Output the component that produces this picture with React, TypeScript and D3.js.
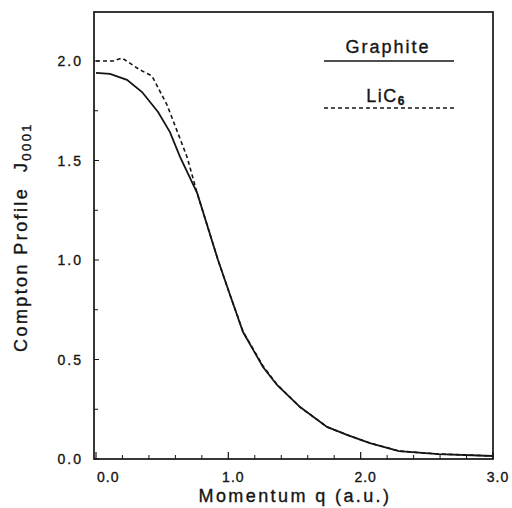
import React from 'react';
import * as d3 from 'd3';

// values
const qGraphite = [0, 0.106, 0.234, 0.348, 0.469, 0.559, 0.635, 0.764, 0.922, 1.013, 1.111, 1.262, 1.368, 1.542, 1.746, 1.897, 2.07, 2.29, 2.59, 3.0];
const jGraphite = [1.94, 1.935, 1.905, 1.844, 1.744, 1.643, 1.518, 1.337, 1.0, 0.824, 0.638, 0.462, 0.372, 0.261, 0.161, 0.121, 0.08, 0.04, 0.025, 0.015];

const qLiC6 = [0, 0.128, 0.197, 0.333, 0.423, 0.537, 0.688, 0.764, 0.922, 1.013, 1.111, 1.262, 1.368, 1.542, 1.746, 1.897, 2.07, 2.29, 2.59, 3.0];
const jLiC6 = [2.0, 2.0, 2.015, 1.955, 1.925, 1.779, 1.518, 1.337, 1.0, 0.824, 0.64, 0.468, 0.374, 0.261, 0.161, 0.121, 0.08, 0.04, 0.025, 0.015];

const xTicks = [0, 1, 2, 3];
const xTickLabels = ['0.0', '1.0', '2.0', '3.0'];
const yTicks = [0, 0.5, 1, 1.5, 2];
const yTickLabels = ['0.0', '0.5', '1.0', '1.5', '2.0'];

const FONT = '"Liberation Sans", Arial, Helvetica, sans-serif';
const INK = '#151515';
// scanned print looks a bit heavier than plain Liberation
const textInk = { fill: INK, stroke: INK, strokeWidth: 0.35 };

type Pt = { q: number; j: number };

export default function App() {
  const left = 94;
  const right = 493;
  const top = 12;
  const bottom = 459;

  const x = d3.scaleLinear().domain([0, 3]).range([96, 493]);
  const y = d3.scaleLinear().domain([0, 2]).range([459, 61]);

  const line = d3.line<Pt>()
    .x(d => x(d.q))
    .y(d => y(d.j))
    .curve(d3.curveLinear);

  const graphite: Pt[] = qGraphite.map((q, i) => ({ q, j: jGraphite[i] }));
  const lic6: Pt[] = qLiC6.map((q, i) => ({ q, j: jLiC6[i] }));

  const xMinor = d3.range(0, 3.001, 0.2).filter(v => Math.abs(v - Math.round(v)) > 1e-6);
  const yMinor = d3.range(0.25, 2.01, 0.5);

  return (
    <svg width={512} height={508} style={{ position: 'absolute', left: 0, top: 0, background: '#fff' }}>
      {/* frame */}
      <rect x={left} y={top} width={right - left} height={bottom - top}
        fill="none" stroke={INK} strokeWidth={1.7} />

      {/* x ticks, pointing inward */}
      {xTicks.map(t => (
        <line key={'xt' + t} x1={x(t)} x2={x(t)} y1={bottom} y2={bottom - 7} stroke={INK} strokeWidth={1.2} />
      ))}
      {xMinor.map(t => (
        <line key={'xm' + t} x1={x(t)} x2={x(t)} y1={bottom} y2={bottom - 4} stroke={INK} strokeWidth={1} />
      ))}
      {xTicks.map((t, i) => (
        <text key={'xl' + t} x={i === 0 ? x(t) + 1 : x(t) + 5} y={482}
          textAnchor={i === 0 ? 'start' : 'middle'} fontFamily={FONT} fontSize={14} letterSpacing={1} {...textInk}>
          {xTickLabels[i]}
        </text>
      ))}

      {/* y ticks */}
      {yTicks.map(t => (
        <line key={'yt' + t} x1={left} x2={left + 5} y1={y(t)} y2={y(t)} stroke={INK} strokeWidth={1} />
      ))}
      {yMinor.map(t => (
        <line key={'ym' + t} x1={left} x2={left + 4} y1={y(t)} y2={y(t)} stroke={INK} strokeWidth={1} />
      ))}
      {yTicks.map((t, i) => (
        <text key={'yl' + t} x={83} y={y(t)} dy="0.36em" textAnchor="end"
          fontFamily={FONT} fontSize={14} letterSpacing={2} {...textInk}>
          {yTickLabels[i]}
        </text>
      ))}

      {/* curves */}
      <path d={line(lic6) || ''} fill="none" stroke={INK} strokeWidth={1.6} strokeDasharray="4,3" />
      <path d={line(graphite) || ''} fill="none" stroke={INK} strokeWidth={1.8} />

      {/* legend */}
      <text x={388} y={53} textAnchor="middle" fontFamily={FONT} fontSize={18} letterSpacing={2} {...textInk}>Graphite</text>
      <line x1={324} x2={454} y1={61} y2={61} stroke={INK} strokeWidth={1.7} />
      <text x={386} y={102} textAnchor="middle" fontFamily={FONT} fontSize={18} letterSpacing={1.5} {...textInk}>
        LiC<tspan fontSize={12} fontWeight="bold" dy={3}>6</tspan>
      </text>
      <line x1={324} x2={454} y1={108} y2={108} stroke={INK} strokeWidth={1.4} strokeDasharray="4,3" />

      {/* axis titles */}
      <text x={295} y={502} textAnchor="middle" fontFamily={FONT} fontSize={18} letterSpacing={2.4} {...textInk}>
        Momentum q (a.u.)
      </text>
      <text transform="translate(27,237) rotate(-90)" textAnchor="middle" fontFamily={FONT} fontSize={18}
        letterSpacing={2.4} {...textInk}>
        Compton Profile{'\u00a0\u00a0'}J<tspan fontSize={13} dy={4}>0001</tspan>
      </text>
    </svg>
  );
}
